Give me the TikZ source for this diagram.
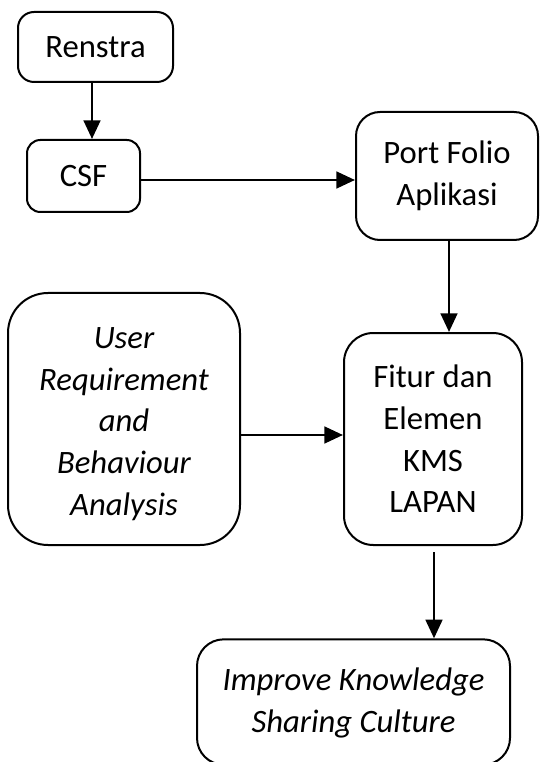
\documentclass[tikz,border=0pt]{standalone}
\usepackage{fontspec}
\setmainfont{Carlito}
\usetikzlibrary{arrows.meta}
\begin{document}
\begin{tikzpicture}[x=0.75pt,y=-0.75pt,
  box/.style={draw=black,line width=1.5pt,fill=white,align=center,inner sep=0pt,
    font=\fontsize{24.5}{31.3}\selectfont},
  txt/.style={align=center,inner sep=0pt,font=\fontsize{24.5}{31.3}\selectfont\itshape},
  arr/.style={line width=2pt,-{Triangle[length=14pt,width=12.5pt]}}]
\useasboundingbox[fill=white] (0,0) rectangle (539,762);
\node[box,rounded corners=12pt,minimum width=116.25pt,minimum height=52.5pt] (renstra) at (95.5,47) {Renstra};
\node[box,rounded corners=10pt,minimum width=84.75pt,minimum height=54pt] (csf) at (83.5,176) {CSF};
\node[box,rounded corners=18pt,minimum width=136.5pt,minimum height=96pt] (port) at (447,176) {Port Folio\\Aplikasi};
\node[box,rounded corners=30pt,minimum width=174pt,minimum height=189pt] (user) at (124,419) {};
\node[txt] (usertext) at (124,424) {User\\Requirement\\and\\Behaviour\\Analysis};
\node[box,rounded corners=22pt,minimum width=133.5pt,minimum height=159pt] (fitur) at (433,439) {Fitur dan\\Elemen\\KMS\\LAPAN};
\node[box,rounded corners=20pt,minimum width=234.75pt,minimum height=94pt] (improve) at (353.5,702) {};
\node[txt] (improvetext) at (353.5,703) {Improve Knowledge\\Sharing Culture};
\coordinate (xa) at (92,0);
\coordinate (yb) at (0,180);
\coordinate (xc) at (449,0);
\coordinate (yd) at (0,435);
\coordinate (xe) at (434,0);
\coordinate (estart) at (434,552);
\draw[arr] (renstra.south -| xa) -- (csf.north -| xa);
\draw[arr] (csf.east |- yb) -- (port.west |- yb);
\draw[arr] (port.south -| xc) -- (fitur.north -| xc);
\draw[arr] (user.east |- yd) -- (fitur.west |- yd);
\draw[arr] (estart) -- (improve.north -| xe);
\end{tikzpicture}
\end{document}
